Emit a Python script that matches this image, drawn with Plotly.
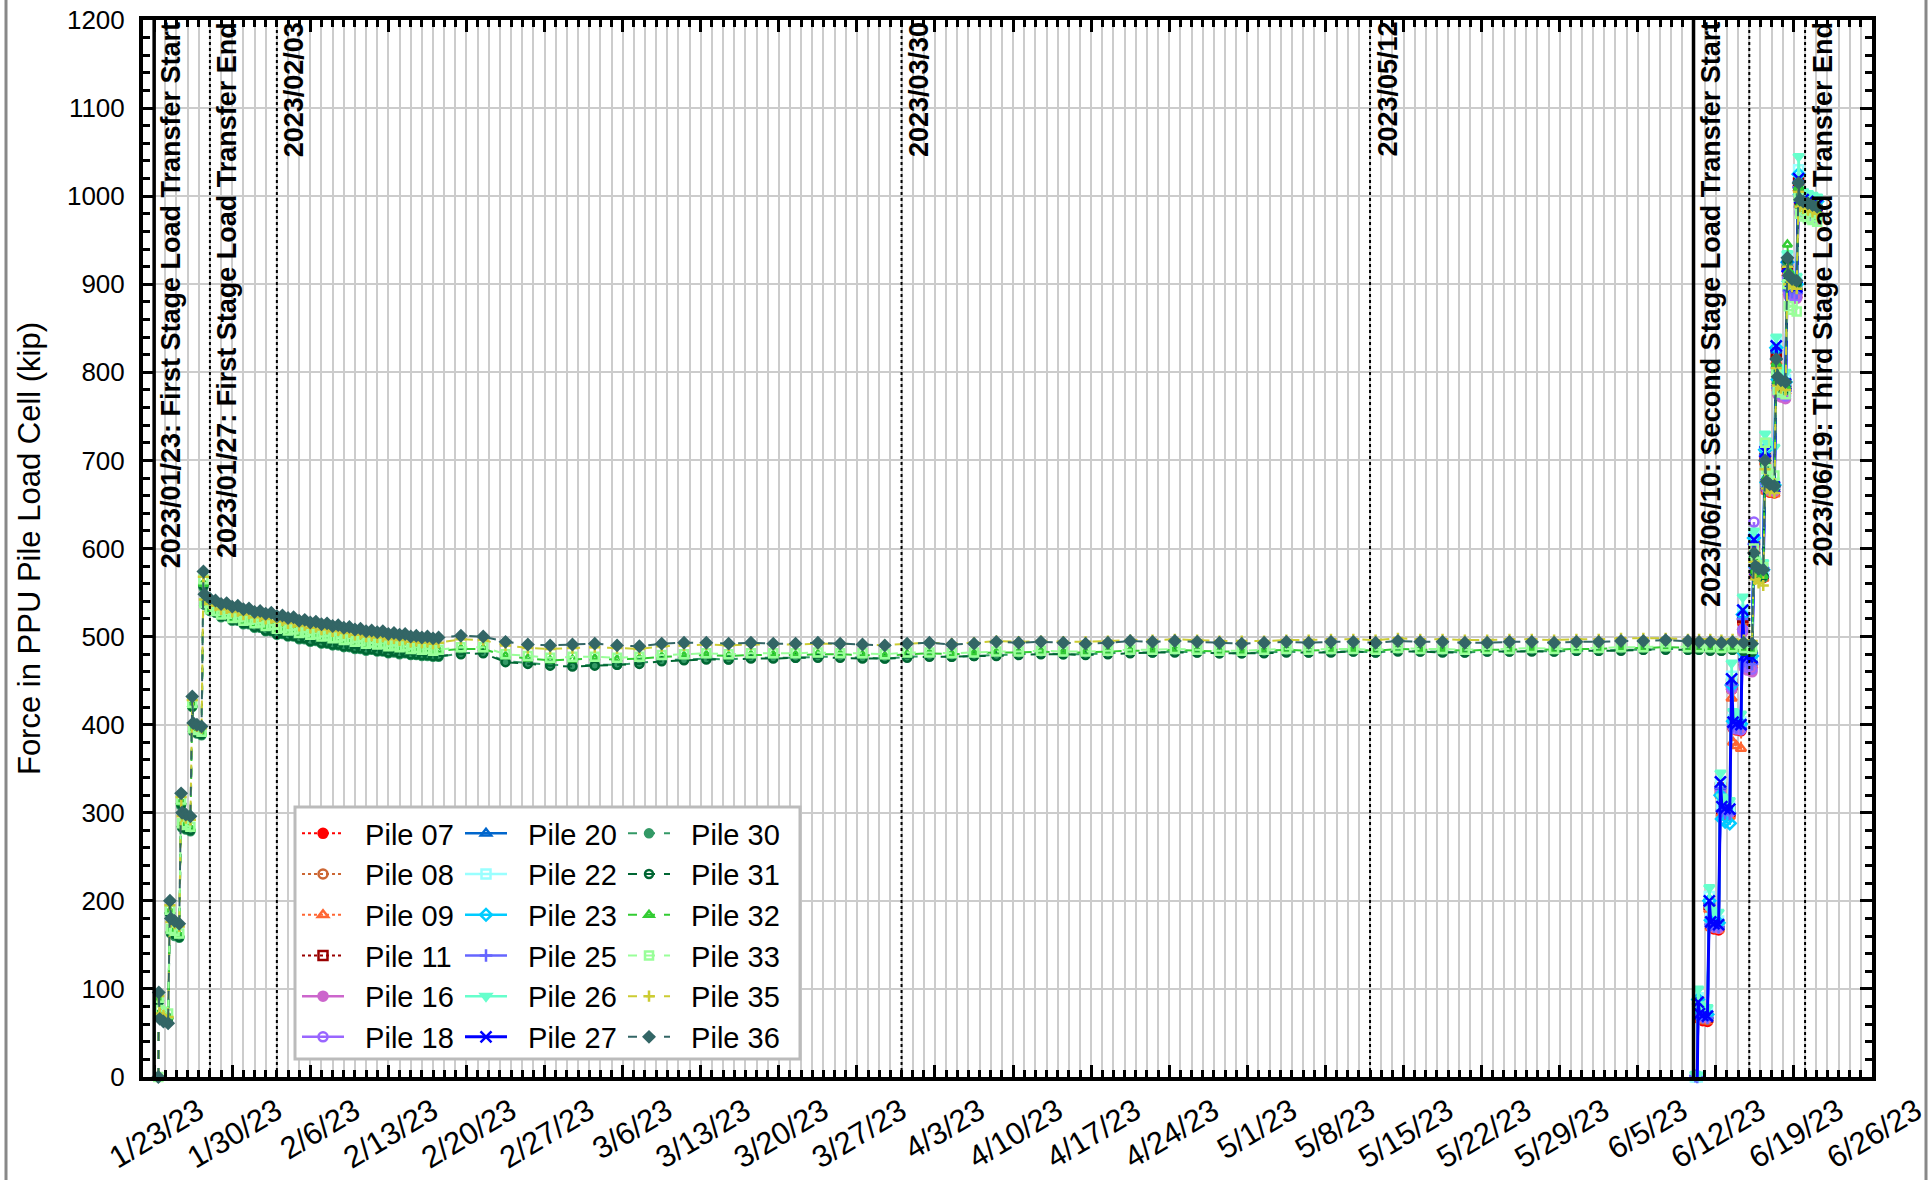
import plotly.graph_objects as go
import pandas as pd

# ---------------- sampling times ----------------
ramp_times = ["2023-01-23 09:00", "2023-01-23 10:00", "2023-01-23 12:00", "2023-01-23 20:00",
              "2023-01-24 06:00", "2023-01-24 10:00", "2023-01-24 12:00", "2023-01-24 20:00",
              "2023-01-25 06:00", "2023-01-25 10:00", "2023-01-25 12:00", "2023-01-25 20:00",
              "2023-01-26 06:00", "2023-01-26 10:00", "2023-01-26 12:00", "2023-01-26 20:00",
              "2023-01-27 06:00", "2023-01-27 10:00"]
band_times = list(pd.date_range("2023-01-27 12:00", "2023-02-17 12:00", freq="12h"))
sparse_times = list(pd.date_range("2023-02-19 12:00", "2023-06-09 12:00", freq="2D"))
green_s2_times = ["2023-06-10 12:00", "2023-06-11 12:00", "2023-06-12 12:00", "2023-06-13 12:00",
                  "2023-06-14 12:00", "2023-06-15 06:00",
                  "2023-06-15 10:00", "2023-06-15 13:00", "2023-06-15 20:00", "2023-06-16 06:00",
                  "2023-06-16 10:00", "2023-06-16 13:00", "2023-06-16 20:00", "2023-06-17 06:00",
                  "2023-06-17 10:00", "2023-06-17 13:00", "2023-06-17 20:00", "2023-06-18 06:00",
                  "2023-06-18 10:00", "2023-06-18 13:00", "2023-06-18 20:00", "2023-06-19 06:00",
                  "2023-06-19 10:00", "2023-06-19 13:00", "2023-06-19 20:00", "2023-06-20 06:00",
                  "2023-06-20 16:00", "2023-06-21 02:00"]
green_times = [pd.Timestamp(t) for t in ramp_times] + band_times + sparse_times + \
              [pd.Timestamp(t) for t in green_s2_times]

s2_times = [pd.Timestamp("2023-06-10 04:00"), pd.Timestamp("2023-06-10 08:00")]
for d in pd.date_range("2023-06-10", "2023-06-18", freq="D"):
    s2_times += [d + pd.Timedelta(hours=10), d + pd.Timedelta(hours=13),
                 d + pd.Timedelta(hours=20), d + pd.Timedelta(hours=30)]
s2_times += [pd.Timestamp(t) for t in ["2023-06-19 10:00", "2023-06-19 13:00", "2023-06-19 20:00",
                                       "2023-06-20 06:00", "2023-06-20 16:00", "2023-06-21 02:00"]]

# ---------------- green piles (first + second stage) ----------------
P36_ramp = [0, 96, 66, 63, 61, 200, 180, 177, 174, 322, 300, 298, 296, 432, 402, 400, 398, 574]
P36_band = [548, 543, 541, 537, 538, 534, 535, 531, 532, 528, 529, 526, 527, 523, 524, 521, 522,
            518, 519, 516, 517, 514, 515, 512, 513, 510, 511, 508, 509, 506, 507, 505, 506, 503,
            504, 502, 503, 500, 501, 499, 500, 498, 499]
P36_sparse = [501, 500, 494, 491, 490,
              491, 492, 490, 489, 492, 493, 493, 492, 493, 492, 492, 493, 492, 491, 490, 492,
              493, 491, 492, 494, 493, 494, 493, 492, 493, 495, 494, 495, 494, 493, 492,
              493, 494, 493, 494, 494, 493, 495, 494, 494, 493, 493, 494, 494, 493, 494,
              494, 495, 495, 496, 495]
P36_s2 = [494, 494, 493, 494, 493, 492, 595, 580, 577, 576, 700, 676, 673, 671,
          815, 795, 791, 789, 930, 910, 906, 904, 1015, 996, 994, 992, 990, 988]

P35_ramp = [0, 92, 72, 70, 68, 195, 176, 174, 171, 318, 296, 294, 292, 428, 400, 398, 396, 568]
P35_band = [542, 537, 535, 531, 532, 528, 529, 525, 526, 522, 523, 520, 521, 517, 518, 515, 516,
            512, 513, 510, 511, 508, 509, 506, 507, 504, 505, 502, 503, 500, 501, 499, 500, 497,
            498, 496, 497, 494, 495, 493, 494, 492, 493]
P35_sparse = [497, 496, 490, 487, 486,
              487, 488, 487, 486, 489, 490, 491, 490, 491, 491, 491, 492, 492, 491, 490, 492,
              493, 492, 493, 495, 494, 495, 494, 494, 495, 496, 496, 497, 496, 495, 495,
              495, 496, 496, 497, 497, 496, 498, 497, 497, 496, 496, 497, 497, 496, 497,
              497, 498, 498, 498, 497]
P35_s2 = [497, 497, 496, 497, 496, 495, 585, 565, 561, 558, 690, 668, 665, 663,
          805, 785, 782, 780, 920, 900, 897, 895, 1005, 988, 986, 984, 982, 980]

P33_ramp = [0, 90, 76, 74, 72, 190, 168, 166, 163, 315, 288, 286, 284, 425, 396, 394, 392, 565]
P33_band = [538, 531, 529, 525, 526, 521, 522, 518, 519, 515, 516, 512, 513, 509, 510, 507, 508,
            504, 505, 502, 503, 500, 501, 498, 499, 496, 497, 494, 495, 492, 493, 491, 492, 489,
            490, 488, 489, 486, 487, 485, 486, 484, 485]
P33_sparse = [488, 488, 480, 478, 476,
              477, 477, 476, 477, 479, 480, 481, 480, 481, 481, 481, 482, 481, 481, 480, 482,
              482, 481, 482, 483, 483, 484, 483, 483, 484, 485, 485, 486, 485, 484, 484,
              485, 486, 485, 486, 486, 485, 487, 486, 486, 485, 486, 486, 487, 486, 487,
              487, 488, 488, 489, 488]
P33_s2 = [488, 488, 487, 488, 487, 486, 600, 585, 581, 579, 720, 690, 685, 683,
          800, 780, 777, 775, 900, 875, 871, 869, 1000, 980, 977, 975, 973, 971]

P32_ramp = [0, 88, 72, 70, 68, 188, 166, 164, 161, 312, 286, 284, 282, 422, 394, 392, 390, 560]
P32_band = [537, 530, 528, 524, 525, 520, 521, 517, 518, 514, 515, 511, 512, 508, 509, 506, 507,
            503, 504, 501, 502, 499, 500, 497, 498, 495, 496, 493, 494, 491, 492, 490, 491, 488,
            489, 487, 488, 485, 486, 484, 485, 483, 484]
P32_sparse = [486, 486, 478, 475, 473,
              474, 475, 474, 475, 477, 478, 479, 478, 479, 479, 479, 480, 480, 479, 478, 480,
              481, 480, 481, 482, 482, 483, 482, 482, 483, 484, 484, 485, 484, 483, 483,
              484, 485, 484, 485, 485, 484, 486, 485, 485, 484, 485, 485, 486, 485, 486,
              486, 487, 487, 488, 487]
P32_s2 = [487, 487, 486, 487, 486, 485, 590, 575, 571, 569, 700, 680, 676, 674,
          810, 790, 786, 784, 945, 915, 909, 906, 1010, 990, 987, 985, 983, 981]

P30_ramp = [0, 85, 70, 68, 66, 185, 163, 160, 158, 308, 283, 281, 279, 420, 392, 390, 388, 556]
P30_band = [536, 529, 527, 522, 523, 518, 518, 514, 514, 510, 510, 506, 506, 502, 503, 500, 500,
            497, 497, 494, 495, 492, 492, 490, 490, 488, 488, 486, 486, 484, 485, 483, 483, 481,
            482, 480, 481, 479, 479, 478, 478, 477, 477]
P30_sparse = [481, 482, 472, 470, 468,
              467, 468, 468, 470, 473, 474, 475, 474, 476, 476, 476, 477, 477, 476, 475, 477,
              478, 477, 478, 479, 480, 481, 480, 480, 481, 482, 482, 483, 482, 481, 481,
              482, 483, 482, 483, 483, 482, 484, 483, 483, 482, 483, 483, 484, 483, 484,
              484, 485, 485, 486, 485]
P30_s2 = [485, 485, 484, 485, 484, 483, 588, 572, 569, 567, 695, 675, 671, 669,
          805, 786, 782, 780, 925, 905, 901, 899, 1005, 987, 984, 982, 980, 978]

P31_ramp = [0, 86, 71, 69, 67, 186, 164, 162, 159, 310, 284, 282, 280, 421, 393, 391, 389, 558]
P31_band = [537, 530, 528, 523, 524, 519, 519, 515, 515, 511, 511, 507, 507, 503, 504, 501, 501,
            498, 498, 495, 496, 493, 493, 491, 491, 489, 489, 487, 487, 485, 486, 484, 484, 482,
            483, 481, 482, 480, 480, 479, 479, 478, 478]
P31_sparse = [480, 481, 471, 469, 467,
              466, 467, 468, 469, 472, 473, 474, 474, 475, 475, 476, 476, 476, 475, 475, 476,
              477, 477, 478, 478, 479, 480, 480, 479, 480, 481, 482, 482, 482, 481, 481,
              481, 482, 482, 482, 483, 482, 483, 483, 482, 482, 483, 483, 483, 483, 484,
              484, 484, 485, 485, 485]
P31_s2 = [485, 484, 484, 485, 484, 483, 590, 574, 571, 569, 698, 678, 674, 672,
          808, 788, 784, 782, 928, 908, 904, 902, 1008, 989, 986, 984, 982, 980]

# ---------------- second stage piles ----------------
P07 = [[-4, -5], [80, 66, 64, 63], [190, 170, 168, 167], [320, 300, 298, 297], [440, 396, 394, 393],
       [515, 472, 470, 469], [600, 570, 568, 567], [700, 666, 664, 663], [815, 782, 780, 779],
       [915, 892, 890, 889], [1010, 992, 990, 988, 987, 985]]
P08 = [[-3, -4], [82, 68, 66, 65], [192, 172, 170, 169], [322, 302, 300, 299], [442, 398, 396, 395],
       [518, 474, 472, 471], [602, 572, 570, 569], [702, 668, 666, 665], [818, 784, 782, 781],
       [918, 894, 892, 891], [1012, 994, 992, 990, 989, 987]]
P09 = [[-3, -3], [80, 67, 65, 64], [190, 170, 168, 167], [320, 299, 297, 296], [430, 380, 376, 373],
       [510, 470, 468, 467], [598, 569, 567, 566], [698, 665, 663, 662], [812, 781, 779, 778],
       [912, 890, 888, 887], [1008, 990, 988, 986, 985, 983]]
P11 = [[-2, -3], [84, 71, 69, 68], [196, 175, 173, 172], [328, 305, 303, 302], [446, 402, 400, 399],
       [522, 480, 478, 477], [605, 575, 573, 572], [705, 671, 669, 668], [822, 789, 787, 786],
       [922, 899, 897, 896], [1015, 997, 995, 993, 992, 990]]
P16 = [[0, -1], [82, 70, 68, 67], [194, 172, 170, 169], [325, 303, 301, 300], [440, 398, 396, 395],
       [505, 465, 462, 460], [600, 575, 573, 572], [700, 668, 666, 665], [800, 775, 772, 770],
       [905, 887, 885, 884], [1000, 980, 978, 976, 975, 973]]
P18 = [[2, 1], [84, 72, 70, 69], [195, 174, 172, 171], [326, 304, 302, 301], [442, 397, 395, 394],
       [508, 468, 465, 463], [630, 585, 580, 578], [715, 678, 675, 673], [805, 778, 775, 773],
       [908, 890, 887, 886], [1002, 982, 980, 978, 977, 975]]
P20 = [[-1, -2], [86, 71, 69, 68], [198, 175, 173, 172], [330, 306, 304, 303], [448, 402, 400, 399],
       [525, 478, 476, 475], [608, 576, 574, 573], [708, 672, 670, 669], [825, 789, 787, 786],
       [922, 899, 897, 896], [1018, 997, 995, 993, 991, 989]]
P22 = [[0, 0], [90, 76, 74, 73], [205, 180, 178, 177], [335, 310, 308, 307], [455, 406, 404, 403],
       [530, 482, 480, 479], [615, 580, 578, 577], [715, 677, 675, 674], [835, 795, 793, 792],
       [930, 905, 903, 902], [1030, 1004, 1002, 1000, 998, 996]]
P23 = [[-1, -1], [88, 74, 72, 71], [200, 178, 176, 175], [320, 293, 290, 288], [445, 404, 402, 401],
       [525, 481, 479, 478], [612, 579, 577, 576], [712, 675, 673, 672], [828, 792, 790, 789],
       [925, 903, 901, 900], [1025, 1002, 1000, 998, 996, 994]]
P25 = [[1, 0], [83, 70, 68, 67], [195, 173, 171, 170], [328, 302, 300, 299], [445, 399, 397, 396],
       [520, 472, 470, 469], [605, 578, 576, 575], [705, 673, 671, 670], [815, 782, 780, 779],
       [915, 893, 891, 890], [1010, 988, 986, 984, 983, 981]]
P26 = [[3, 2], [100, 82, 80, 79], [215, 190, 188, 187], [345, 318, 315, 314], [470, 415, 413, 412],
       [545, 492, 490, 489], [620, 588, 585, 584], [730, 722, 718, 715], [840, 805, 802, 800],
       [935, 912, 910, 909], [1045, 1008, 1005, 1003, 1001, 999]]
P27 = [[-2, -3], [85, 72, 70, 69], [200, 176, 174, 173], [335, 307, 305, 304], [452, 403, 401, 400],
       [530, 479, 477, 476], [610, 576, 574, 573], [710, 673, 671, 670], [830, 790, 788, 787],
       [920, 900, 898, 897], [1020, 998, 996, 994, 992, 990]]


def flat(steps):
    return [v for s in steps for v in s]


green = {
    "30": P30_ramp + P30_band + P30_sparse + P30_s2,
    "31": P31_ramp + P31_band + P31_sparse + P31_s2,
    "32": P32_ramp + P32_band + P32_sparse + P32_s2,
    "33": P33_ramp + P33_band + P33_sparse + P33_s2,
    "35": P35_ramp + P35_band + P35_sparse + P35_s2,
    "36": P36_ramp + P36_band + P36_sparse + P36_s2,
}
stage2 = {"07": P07, "08": P08, "09": P09, "11": P11, "16": P16, "18": P18,
          "20": P20, "22": P22, "23": P23, "25": P25, "26": P26, "27": P27}

# styles: (color, dash, symbol, legend, rank)
style = {
    "07": ("#ff0000", "dot", "circle", "legend", 0),
    "08": ("#cc6633", "dot", "circle-open", "legend", 1),
    "09": ("#ff6633", "dot", "triangle-up-open", "legend", 2),
    "11": ("#990000", "dot", "square-open", "legend", 3),
    "16": ("#cc66cc", "solid", "circle", "legend", 4),
    "18": ("#9966ff", "solid", "circle-open", "legend", 5),
    "20": ("#0066cc", "solid", "triangle-up-open", "legend2", 0),
    "22": ("#99ffff", "solid", "square-open", "legend2", 1),
    "23": ("#00ccff", "solid", "diamond-open", "legend2", 2),
    "25": ("#6666ff", "solid", "cross-thin-open", "legend2", 3),
    "26": ("#66ffcc", "solid", "triangle-down", "legend2", 4),
    "27": ("#0000ff", "solid", "x-thin-open", "legend2", 5),
    "30": ("#339966", "dash", "circle", "legend3", 0),
    "31": ("#006633", "dash", "circle-open", "legend3", 1),
    "32": ("#33cc33", "dash", "triangle-up-open", "legend3", 2),
    "33": ("#99ff99", "dash", "square-open", "legend3", 3),
    "35": ("#cccc33", "dash", "cross-thin-open", "legend3", 4),
    "36": ("#336666", "dash", "diamond", "legend3", 5),
}

fig = go.Figure()
order = ["07", "08", "09", "11", "16", "18", "20", "22", "23", "25", "26", "27",
         "30", "31", "32", "33", "35", "36"]
for p in order:
    color, dash, sym, leg, rank = style[p]
    if p in green:
        x, y = green_times, green[p]
        msize = 8
    else:
        x, y = s2_times, flat(stage2[p])
        msize = 11 if p == "27" else 9
    assert len(x) == len(y), (p, len(x), len(y))
    lw = 2 if dash != "solid" else (3 if p == "27" else 2.5)
    fig.add_trace(go.Scatter(
        x=x, y=y, mode="lines+markers", name="\u00a0\u00a0Pile " + p,
        line=dict(color=color, width=lw, dash=dash),
        marker=dict(symbol=sym, size=msize, color=color,
                    line=dict(color=color, width=2.5)),
        legend=leg, legendrank=rank, cliponaxis=False,
    ))

# ---------------- event lines ----------------
events = [
    ("2023-01-23 00:00", "solid", "2023/01/23: First Stage Load Transfer Start"),
    ("2023-01-28 00:00", "dot", "2023/01/27: First Stage Load Transfer End"),
    ("2023-02-03 00:00", "dot", "2023/02/03"),
    ("2023-03-31 00:00", "dot", "2023/03/30"),
    ("2023-05-12 00:00", "dot", "2023/05/12"),
    ("2023-06-10 00:00", "solid", "2023/06/10: Second Stage Load Transfer Start"),
    ("2023-06-15 00:00", "dot", ""),
    ("2023-06-20 00:00", "dot", "2023/06/19: Third Stage Load Transfer End"),
]
for t, dash, label in events:
    fig.add_shape(type="line", xref="x", yref="paper", x0=t, x1=t, y0=0, y1=1,
                  line=dict(color="black", width=3.5 if dash == "solid" else 2, dash=dash),
                  layer="above")
    if label:
        fig.add_annotation(x=t, y=1, xref="x", yref="paper", text="<b>" + label + "</b>",
                           textangle=-90, xanchor="left", yanchor="top", showarrow=False,
                           font=dict(size=27, color="black"))

# plot area in window pixels (page body margin is removed below)
L, R, T, B = 143, 1872, 20, 1077
FW, FH = 1929, 1180
W, H = R - L, B - T


def px_x(v):
    return (v - L) / W


def px_y(v):
    return (B - v) / H


fig.add_shape(type="rect", xref="paper", yref="paper",
              x0=px_x(295), x1=px_x(800), y0=px_y(1059), y1=px_y(807),
              fillcolor="white", line=dict(color="#bbbbbb", width=3), layer="above")
for xv in (6, 1926):
    fig.add_shape(type="line", xref="paper", yref="paper", x0=px_x(xv), x1=px_x(xv),
                  y0=px_y(1180), y1=px_y(0), line=dict(color="#888888", width=3), layer="above")

leg_common = dict(orientation="v", bgcolor="rgba(0,0,0,0)", borderwidth=0,
                  font=dict(size=29, color="black"), itemwidth=42, yanchor="top",
                  xanchor="left", tracegroupgap=0, traceorder="normal")
fig.update_layout(
    legend=dict(x=px_x(297), y=px_y(808), **leg_common),
    legend2=dict(x=px_x(460), y=px_y(808), **leg_common),
    legend3=dict(x=px_x(623), y=px_y(808), **leg_common),
)

fig.update_layout(
    width=FW, height=FH,
    margin=dict(l=L, r=FW - R, t=T, b=FH - B, autoexpand=False),
    paper_bgcolor="white", plot_bgcolor="white",
    font=dict(family="Liberation Sans, Arial, sans-serif", color="black"),
)
fig.update_xaxes(
    type="date", range=["2023-01-22", "2023-06-26"], automargin=False,
    tick0="2023-01-23", dtick=7 * 86400000, tickformat="%-m/%-d/%y", tickangle=-31,
    ticks="inside", ticklen=12, tickwidth=3, tickcolor="black",
    showgrid=True, gridcolor="#cccccc", gridwidth=2,
    showline=True, linecolor="black", linewidth=4, mirror="allticks",
    tickfont=dict(size=31, color="black"), ticklabelshift=44, ticklabelstandoff=0,
    ticklabeloverflow="allow",
    minor=dict(tick0="2023-01-22", dtick=86400000, ticks="inside", ticklen=7, tickwidth=3,
               tickcolor="black", showgrid=True, gridcolor="#cccccc", gridwidth=2),
)
fig.update_yaxes(
    range=[0, 1200], tick0=0, dtick=100, automargin=False,
    ticks="inside", ticklen=12, tickwidth=3, tickcolor="black",
    showgrid=True, gridcolor="#cccccc", gridwidth=2,
    showline=True, linecolor="black", linewidth=4, mirror="allticks",
    tickfont=dict(size=26, color="black"), ticklabelstandoff=9, ticklabeloverflow="allow",
    minor=dict(dtick=20, ticks="inside", ticklen=7, tickwidth=3, tickcolor="black", showgrid=False),
    title=dict(text="Force in PPU Pile Load Cell (kip)", font=dict(size=31, color="black"), standoff=18),
)

fig.write_html("out.html", config={"displayModeBar": False},
               post_script="document.body.style.margin='0px';")
